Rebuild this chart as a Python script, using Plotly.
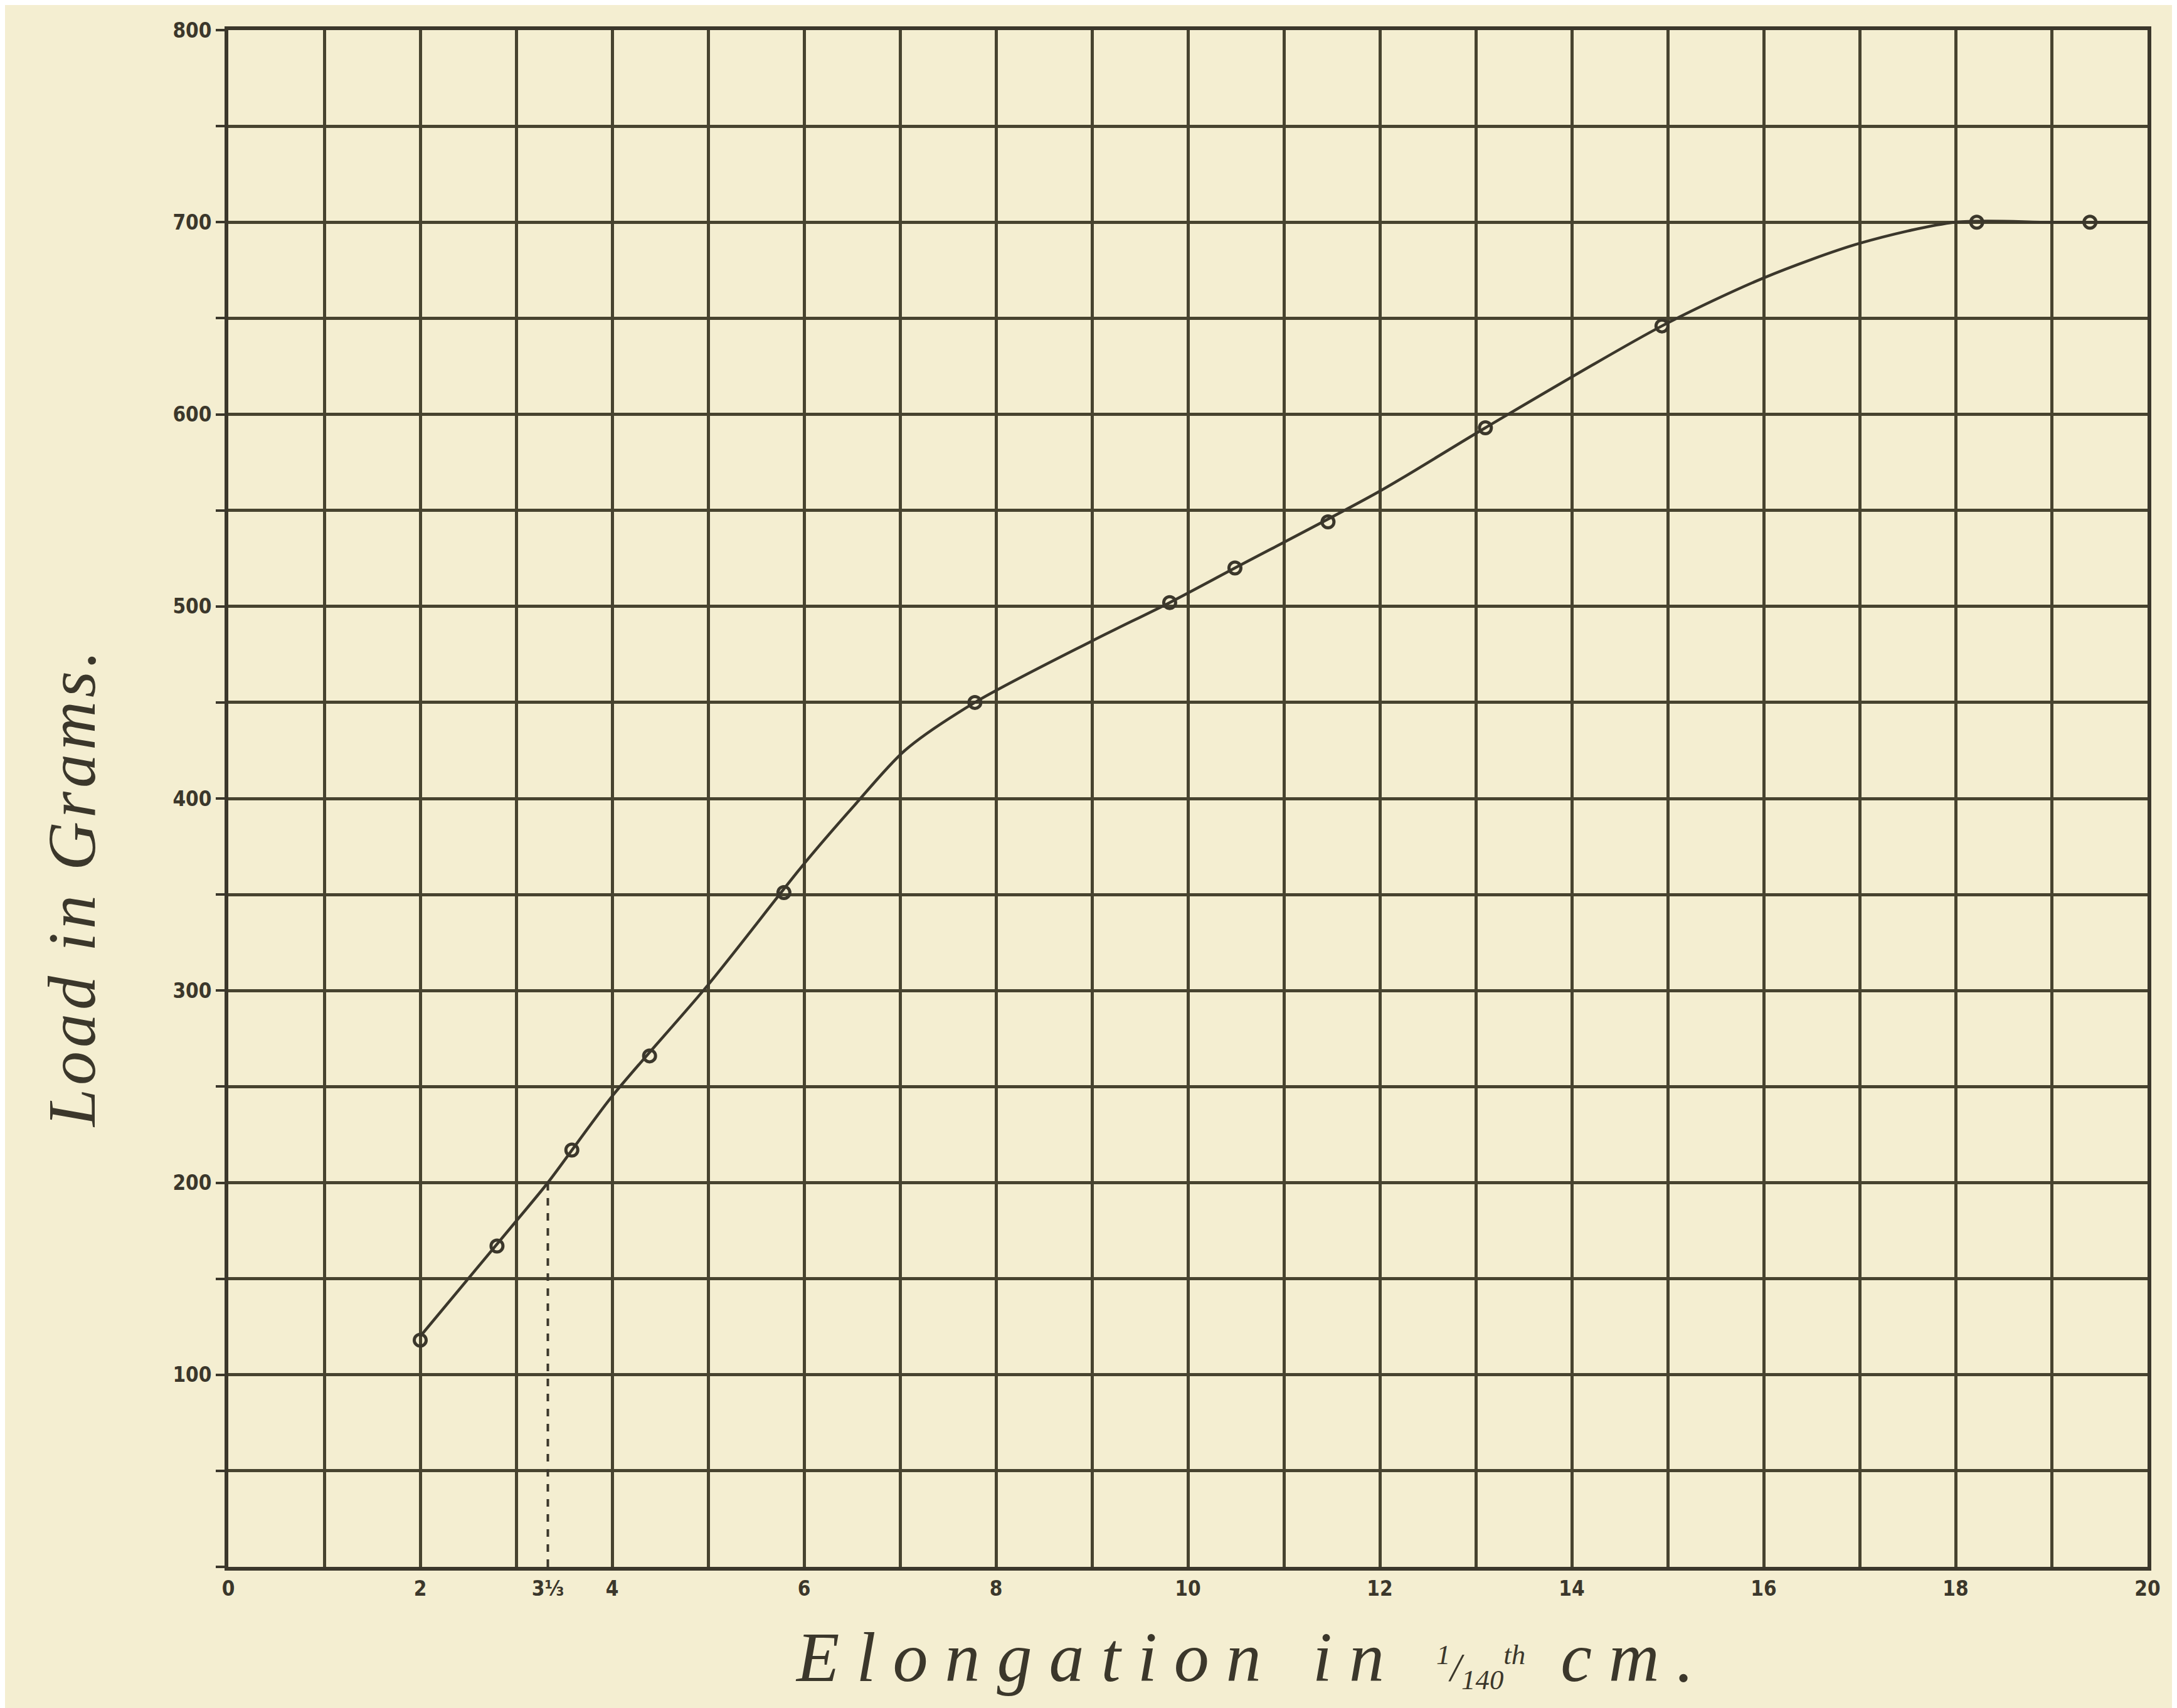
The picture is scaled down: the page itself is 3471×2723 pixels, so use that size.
import plotly.graph_objects as go

# ---- data ----
point_x = [2.0, 2.8, 3.58, 4.39, 5.79, 7.78, 9.81, 10.49, 11.46, 13.1, 14.94, 18.22, 19.4]
point_y = [118, 167, 217, 266, 351, 450, 502, 520, 544, 593, 646, 700, 700]

curve_x = [2.0, 3.0, 3.33, 4.0, 5.0, 6.0, 6.5, 7.05, 7.78, 9.0, 9.81, 10.49, 12.0, 13.1, 14.94, 16.0, 17.0, 18.0, 19.0, 20.0]
curve_y = [120, 180, 200, 245, 303, 366, 395, 425, 450, 482, 502, 520, 560, 593, 646, 671, 689, 700, 700, 700]

limit_x = [3.33, 3.33]
limit_y = [0, 200]

x_tick_vals = [0, 2, 3.33, 4, 6, 8, 10, 12, 14, 16, 18, 20]
x_tick_text = ["0", "2", "3⅓", "4", "6", "8", "10", "12", "14", "16", "18", "20"]
y_tick_vals = [0, 50, 100, 150, 200, 250, 300, 350, 400, 450, 500, 550, 600, 650, 700, 750, 800]
y_tick_text = ["", "", "100", "", "200", "", "300", "", "400", "", "500", "", "600", "", "700", "", "800"]

x_title = ('<span style="letter-spacing:27px">Elongation in</span>  '
           '<span style="font-size:64px"><sup>1</sup>/<sub>140</sub><sup>th</sup></span>  '
           '<span style="letter-spacing:27px">cm.</span>')
y_title = '<span style="letter-spacing:6px">Load in Grams.</span>'

INK = "#3b372b"
GRID = "#47432f"
PAPER = "#f4eed1"

fig = go.Figure()

fig.add_trace(go.Scatter(
    x=curve_x, y=curve_y, mode="lines",
    line=dict(color=INK, width=4.5, shape="spline", smoothing=0.8),
    hoverinfo="skip", showlegend=False))

fig.add_trace(go.Scatter(
    x=limit_x, y=limit_y, mode="lines",
    line=dict(color=INK, width=4, dash="dash"),
    hoverinfo="skip", showlegend=False, xaxis="x2"))

fig.add_trace(go.Scatter(
    x=point_x, y=point_y, mode="markers",
    marker=dict(symbol="circle-open", size=19, color=INK, line=dict(color=INK, width=5)),
    showlegend=False))

tick_font = dict(family="DejaVu Sans Condensed, DejaVu Sans, sans-serif", size=33, color=INK, weight=700)

fig.update_layout(
    width=3471, height=2723,
    paper_bgcolor=PAPER, plot_bgcolor=PAPER,
    margin=dict(l=356, r=55, t=40, b=233),
    xaxis=dict(
        range=[0, 20], tickmode="array", tickvals=x_tick_vals, ticktext=x_tick_text,
        showgrid=False, zeroline=False, ticks="",
        showline=True, linecolor=INK, linewidth=6, mirror=True,
        tickfont=tick_font),
    xaxis2=dict(
        range=[0, 20], overlaying="x", anchor="y", side="bottom",
        tickmode="linear", tick0=0, dtick=1, showticklabels=False,
        showgrid=True, gridcolor=GRID, gridwidth=4.5, zeroline=False, ticks="",
        showline=False),
    yaxis=dict(
        range=[0, 800], tickmode="array", tickvals=y_tick_vals, ticktext=y_tick_text,
        showgrid=True, gridcolor=GRID, gridwidth=4.5, zeroline=False,
        ticks="outside", ticklen=14, tickwidth=4, tickcolor=INK,
        showline=True, linecolor=INK, linewidth=6, mirror=True,
        tickfont=tick_font),
    annotations=[
        dict(text=x_title, xref="paper", yref="paper", x=0.534, y=0, yshift=-144,
             xanchor="center", yanchor="middle", showarrow=False,
             font=dict(family="Liberation Serif, DejaVu Serif, serif", size=112, color=INK, style="italic")),
        dict(text=y_title, xref="paper", yref="paper", x=0, y=0.442, xshift=-250,
             xanchor="center", yanchor="middle", showarrow=False, textangle=-90,
             font=dict(family="Liberation Serif, DejaVu Serif, serif", size=108, color=INK, style="italic")),
    ],
)

fig.write_html("out.html")
